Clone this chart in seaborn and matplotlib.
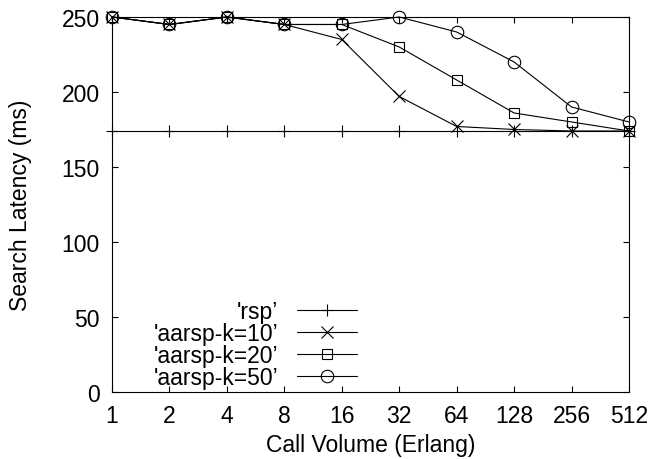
import matplotlib
matplotlib.use("Agg")
import matplotlib.pyplot as plt
import seaborn as sns
import pandas as pd

# data
call_volume = [1, 2, 4, 8, 16, 32, 64, 128, 256, 512]
rsp = [174, 174, 174, 174, 174, 174, 174, 174, 174, 174]
aarsp_k10 = [250, 245, 250, 245, 235, 197, 177, 175, 174, 174]
aarsp_k20 = [250, 245, 250, 245, 245, 230, 208, 186, 180, 174]
aarsp_k50 = [250, 245, 250, 245, 245, 250, 240, 220, 190, 180]

series_names = ["'rsp\u2019", "'aarsp-k=10\u2019", "'aarsp-k=20\u2019", "'aarsp-k=50\u2019"]
series_values = [rsp, aarsp_k10, aarsp_k20, aarsp_k50]
series_markers = ["+", "x", "s", "o"]
y_ticks = [0, 50, 100, 150, 200, 250]

FS = 16.5

sns.set_style("ticks")
plt.rcParams["font.family"] = ["Liberation Sans", "DejaVu Sans"]
plt.rcParams["font.size"] = FS
plt.rcParams["text.color"] = "black"
plt.rcParams["axes.labelcolor"] = "black"

fig = plt.figure(figsize=(6.52, 4.6), dpi=100)
ax = fig.add_axes([0.1718, 0.1457, 0.7929, 0.8152])

for name, values, marker in zip(series_names, series_values, series_markers):
    df = pd.DataFrame({"x": call_volume, "y": values})
    sns.lineplot(
        data=df, x="x", y="y", ax=ax, color="black", linewidth=0.8,
        marker=marker, markersize=9 if marker in "+xo" else 7.5,
        markerfacecolor="none", markeredgecolor="black", markeredgewidth=0.8,
        label=name, clip_on=False,
    )

ax.set_xscale("log", base=2)
ax.set_xticks(call_volume)
ax.set_xticklabels([str(v) for v in call_volume])
ax.minorticks_off()
ax.set_xlim(1, 512)
ax.set_ylim(0, 250)
ax.set_yticks(y_ticks)

ax.tick_params(direction="in", length=4, width=0.8, top=True, right=True,
               labelsize=FS, colors="black")
ax.tick_params(axis="x", pad=9)
ax.tick_params(axis="y", pad=9)
for spine in ax.spines.values():
    spine.set_visible(True)
    spine.set_linewidth(0.8)
    spine.set_color("black")

ax.set_xlabel("Call Volume (Erlang)", fontsize=FS, labelpad=4, color="black")
ax.set_ylabel("Search Latency (ms)", fontsize=FS, labelpad=21, color="black")

leg = ax.legend(loc="lower right", bbox_to_anchor=(0.474, 0.008), frameon=False,
                markerfirst=False, handlelength=2.6, handletextpad=0.85,
                labelspacing=-0.05, borderaxespad=0.0, borderpad=0.0, fontsize=FS)
for t in leg.get_texts():
    t.set_color("black")

# right-align the legend rows so labels end at the same place, like gnuplot's key
for col in leg._legend_handle_box.get_children():
    col.align = "right"

fig.savefig("out.png", dpi=100)
